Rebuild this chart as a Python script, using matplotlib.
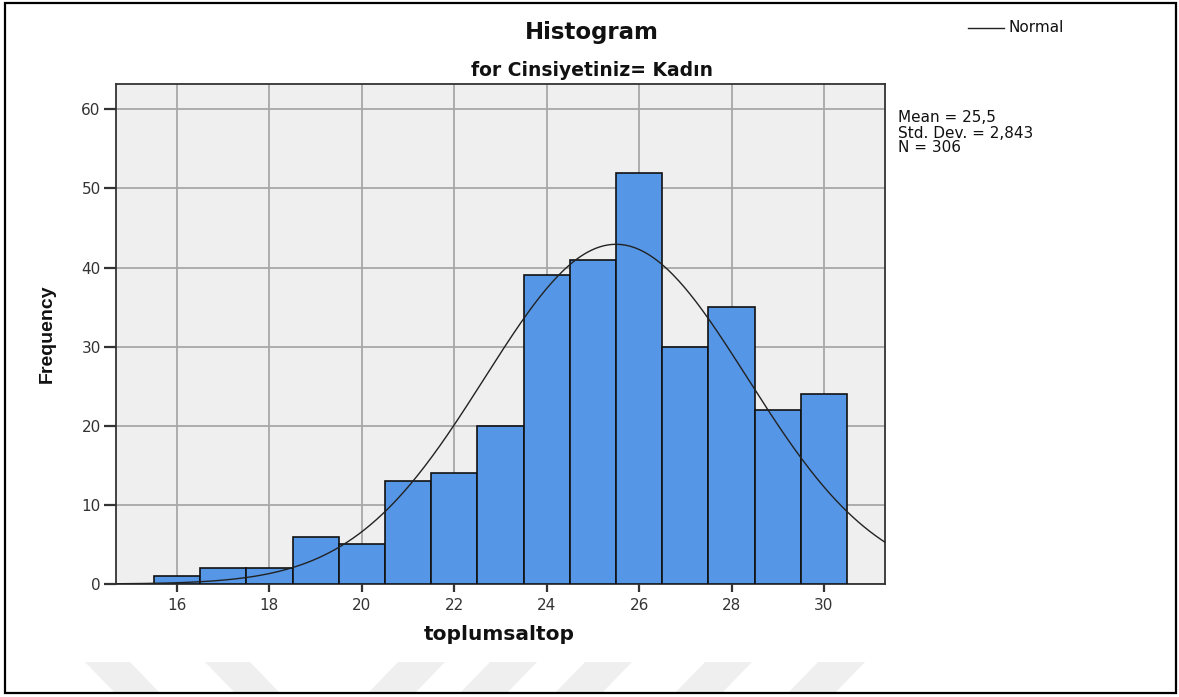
import numpy as np
import matplotlib
matplotlib.use("Agg")
import matplotlib.pyplot as plt
from matplotlib.patches import Polygon, Rectangle

# ---- data ----
bin_centers = [16, 17, 18, 19, 20, 21, 22, 23, 24, 25, 26, 27, 28, 29, 30]
frequencies = [1, 2, 2, 6, 5, 13, 14, 20, 39, 41, 52, 30, 35, 22, 24]
x_ticks = [16, 18, 20, 22, 24, 26, 28, 30]
y_ticks = [0, 10, 20, 30, 40, 50, 60]
mean_val = 25.5
std_val = 2.843
n_val = 306
title = "Histogram"
subtitle = "for Cinsiyetiniz= Kadın"
x_label = "toplumsaltop"
y_label = "Frequency"
stats_lines = ["Mean = 25,5", "Std. Dev. = 2,843", "N = 306"]

W, H = 1179, 697
fig = plt.figure(figsize=(W / 100, H / 100), dpi=100)
fig.patch.set_facecolor("white")

def fx(px):
    return px / W

def fy(py):
    return 1 - py / H

# watermark shapes (faint)
wm_color = "#efefef"
for xt in [85, 205]:
    fig.patches.append(Polygon([(fx(xt), fy(662)), (fx(xt + 45), fy(662)),
                                (fx(xt + 75), fy(693)), (fx(xt + 30), fy(693))],
                               closed=True, transform=fig.transFigure,
                               facecolor=wm_color, edgecolor="none", zorder=0))
for xt in [398, 490, 585, 705, 818]:
    fig.patches.append(Polygon([(fx(xt), fy(662)), (fx(xt + 47), fy(662)),
                                (fx(xt + 17), fy(693)), (fx(xt - 30), fy(693))],
                               closed=True, transform=fig.transFigure,
                               facecolor=wm_color, edgecolor="none", zorder=0))

# outer frame
fig.patches.append(Rectangle((fx(5), fy(693)), fx(1176) - fx(5), fy(3) - fy(693),
                             transform=fig.transFigure, fill=False,
                             edgecolor="black", linewidth=1.6, zorder=5))

ax = fig.add_axes([fx(116), fy(584), fx(885) - fx(116), fy(84) - fy(584)])
ax.set_facecolor("#efefef")

ax.bar(bin_centers, frequencies, width=1.0, color="#5596e6",
       edgecolor="#111111", linewidth=1.2, zorder=3)

xs = np.linspace(14.68, 31.32, 400)
bw = 1.0
ys = n_val * bw / (std_val * np.sqrt(2 * np.pi)) * np.exp(-0.5 * ((xs - mean_val) / std_val) ** 2)
ax.plot(xs, ys, color="#222222", linewidth=1.0, zorder=4)

ax.set_xlim(14.68, 31.32)
ax.set_ylim(0, 63.2)
ax.set_xticks(x_ticks)
ax.set_yticks(y_ticks)
ax.grid(True, color="#a8a8a8", linewidth=1.3, zorder=1)
ax.set_axisbelow(True)

tick_font = dict(family=["DejaVu Sans"], size=11, color="#333333")
ax.set_xticklabels([str(v) for v in x_ticks], **tick_font)
ax.set_yticklabels([str(v) for v in y_ticks], **tick_font)
ax.tick_params(axis="y", direction="out", length=9, width=1.6, color="#333333", pad=2)
ax.tick_params(axis="x", direction="out", length=6, width=1.6, color="#333333", pad=4)

for side in ["left", "bottom", "top", "right"]:
    ax.spines[side].set_color("#333333")
    ax.spines[side].set_linewidth(1.3)

fig.text(fx(592), fy(32), title, ha="center", va="center",
         family=["DejaVu Sans"], weight="bold", size=16.5, color="#111111")
fig.text(fx(592), fy(70), subtitle, ha="center", va="center",
         family=["DejaVu Sans"], weight="bold", size=13.5, color="#111111")

fig.text(fx(499), fy(634), x_label, ha="center", va="center",
         family=["DejaVu Sans"], weight="bold", size=14.5, color="#111111")
fig.text(fx(47), fy(334), y_label, ha="center", va="center", rotation=90,
         family=["Liberation Sans Narrow", "Liberation Sans", "DejaVu Sans"],
         weight="bold", size=14, color="#111111")

for i, line in enumerate(stats_lines):
    fig.text(fx(898), fy(118 + 15 * i), line, ha="left", va="center",
             family=["DejaVu Sans"], size=11, color="#111111")

# legend
fig.add_artist(plt.Line2D([fx(968), fx(1004)], [fy(28), fy(28)],
                          transform=fig.transFigure, color="#222222", linewidth=1.0))
fig.text(fx(1008), fy(28), "Normal", ha="left", va="center",
         family=["DejaVu Sans"], size=11, color="#111111")

fig.savefig("out.png", dpi=100)
